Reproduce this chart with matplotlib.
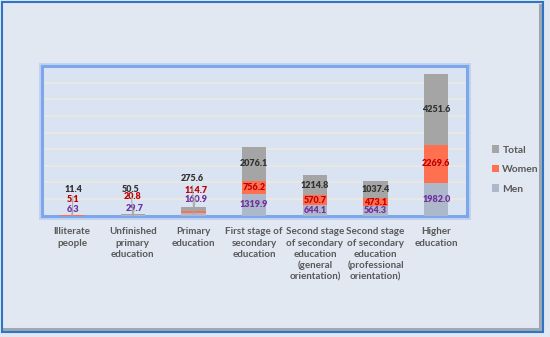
import numpy as np
import matplotlib.pyplot as plt
from matplotlib.patches import Rectangle
from matplotlib.lines import Line2D

categories = ['Illiterate\npeople', 'Unfinished\nprimary\neducation', 'Primary\neducation',
              'First stage of\nsecondary\neducation',
              'Second stage\nof secondary\neducation\n(general\norientation)',
              'Second stage\nof secondary\neducation\n(professional\norientation)',
              'Higher\neducation']
men = [6.3, 29.7, 160.9, 1319.9, 644.1, 564.3, 1982.0]
women = [5.1, 20.8, 114.7, 756.2, 570.7, 473.1, 2269.6]
total = [11.4, 50.5, 275.6, 2076.1, 1214.8, 1037.4, 4251.6]

c_men, c_women, c_total = '#ADB9CA', '#FF7051', '#A5A5A5'
t_men, t_women, t_total = '#7030A0', '#C00000', '#333333'
txt = '#595959'

plt.rcParams['font.family'] = ['Lato', 'DejaVu Sans']

fig = plt.figure(figsize=(5.5, 3.37), dpi=100)
fig.patch.set_facecolor('#E1E8F1')

# outer frame with a little shadow on the right and bottom
fig.add_artist(Line2D([0.981, 0.981], [0.025, 0.985], transform=fig.transFigure,
                      color='#A0A7B0', lw=2.2, zorder=0))
fig.add_artist(Line2D([0.006, 0.981], [0.025, 0.025], transform=fig.transFigure,
                      color='#A0A7B0', lw=2.2, zorder=0))
fig.add_artist(Rectangle((0.0036, 0.0148), 0.983, 0.979, transform=fig.transFigure,
                         fill=False, ec='#2E75C8', lw=1.5, zorder=1))

ax = fig.add_axes([0.0758, 0.36, 0.7727, 0.444])
ax.set_facecolor('#DAE3F1')

x = np.arange(len(categories))
men_a, women_a, total_a = np.array(men), np.array(women), np.array(total)
w = 0.4
ax.bar(x, men_a, w, color=c_men, label='Men', zorder=3)
ax.bar(x, women_a, w, bottom=men_a, color=c_women, label='Women', zorder=3)
ax.bar(x, total_a, w, bottom=men_a + women_a, color=c_total, label='Total', zorder=3)

ax.set_xlim(-0.5, len(categories) - 0.5)
ax.set_ylim(0, 9000)
ax.set_yticks(np.arange(1000, 9000, 1000))
ax.yaxis.grid(True, color='#ECE8E0', lw=1.2, zorder=0)
ax.tick_params(axis='y', left=False, labelleft=False)
ax.tick_params(axis='x', bottom=False, pad=5)
ax.set_xticks(x)
ax.set_xticklabels(categories, fontsize=7.1, fontweight='bold', color=txt, linespacing=1.3, va='top')

# glowing blue frame
for s in ax.spines.values():
    s.set_color('#7EA6EA')
    s.set_linewidth(2.2)
pos = ax.get_position()
fig.add_artist(Rectangle((pos.x0, pos.y0), pos.width, pos.height, transform=fig.transFigure,
                         fill=False, ec='#A9C4F0', lw=5, alpha=0.6, zorder=0))

fs = 6.5
seg_lists = [(men_a, np.zeros_like(men_a), t_men),
             (women_a, men_a, t_women),
             (total_a, men_a + women_a, t_total)]
# label offsets (x shift, axes-fraction height) for the tiny bars
small_pos = {
    0: [(0.02, 0.038), (0.02, 0.105), (0.02, 0.178)],
    1: [(0.03, 0.05), (0.0, 0.125), (-0.03, 0.178)],
    2: [(0.05, 0.105), (0.05, 0.17), (-0.02, 0.25)],
}
tr = ax.get_xaxis_transform()
for k, (vals, bottoms, col) in enumerate(seg_lists):
    for i in x:
        v = vals[i]
        yc = bottoms[i] + v / 2
        if i in small_pos:
            dx, fy = small_pos[i][k]
            ax.annotate(f'{v:.1f}', xy=(i, yc), xycoords='data',
                        xytext=(i + dx, fy), textcoords=tr,
                        ha='center', va='center', fontsize=fs, fontweight='heavy', color=col,
                        arrowprops=dict(arrowstyle='-', color='#A6A6A6', lw=0.7,
                                        shrinkA=0, shrinkB=0), zorder=5)
        else:
            ax.text(i, yc, f'{v:.1f}', ha='center', va='center', fontsize=fs,
                    fontweight='heavy', color=col, zorder=5)

handles, labels = ax.get_legend_handles_labels()
leg = fig.legend(handles[::-1], labels[::-1], loc='center left', bbox_to_anchor=(0.877, 0.497),
                 frameon=False, fontsize=7.4, handlelength=0.75, handleheight=0.75,
                 handletextpad=0.3, labelspacing=1.0)
for t in leg.get_texts():
    t.set_color(txt)
    t.set_fontweight('bold')

fig.savefig('out.png', dpi=100, facecolor=fig.get_facecolor())
